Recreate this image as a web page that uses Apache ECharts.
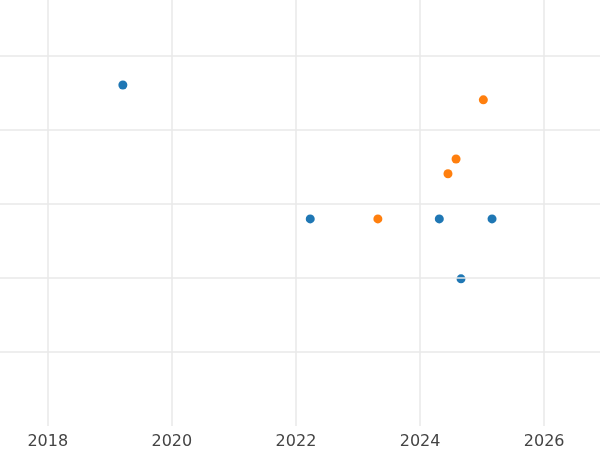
<!DOCTYPE html>
<html>
<head>
<meta charset="utf-8">
<script src="https://cdn.jsdelivr.net/npm/echarts@6/dist/echarts.min.js"></script>
<style>html,body{margin:0;padding:0}#chart{width:600px;height:450px}</style>
</head>
<body>
<div id="chart"></div>
<script>
// Values (x = year, y = unlabelled value)
const blueX = [2019.21, 2022.23, 2024.31, 2025.16, 2024.66];
const blueY = [4.61, 2.8, 2.8, 2.8, 1.99];
const orangeX = [2023.32, 2025.02, 2024.58, 2024.45];
const orangeY = [2.8, 4.41, 3.61, 3.41];
const yearTicks = [2018, 2020, 2022, 2024, 2026];

const pairs = (xs, ys) => xs.map((x, i) => [x, ys[i]]);

const chart = echarts.init(document.getElementById('chart'));
chart.setOption({
    animation: false,
    grid: { left: 0, right: 0, top: 0, bottom: 24 },
    xAxis: {
        type: 'value',
        min: 2017.23, max: 2026.9,
        axisLine: { show: false },
        axisTick: { show: false },
        axisLabel: {
            color: '#444', fontSize: 16, fontFamily: 'DejaVu Sans',
            customValues: yearTicks,
            formatter: v => String(Math.round(v))
        },
        splitLine: { show: false }
    },
    yAxis: {
        type: 'value',
        min: 0, max: 5.76,
        axisLine: { show: false },
        axisTick: { show: false },
        axisLabel: { show: false },
        splitLine: { show: false }
    },
    series: [
        {
            // grid lines drawn as mark lines so they sit at exact values
            type: 'scatter', data: [], silent: true,
            markLine: {
                symbol: 'none', silent: true, label: { show: false },
                lineStyle: { color: '#e8e8e8', width: 1.5, type: 'solid' },
                data: yearTicks.map(v => ({ xAxis: v }))
                    .concat([1, 2, 3, 4, 5].map(v => ({ yAxis: v })))
            }
        },
        { type: 'scatter', symbolSize: 9, itemStyle: { color: '#1f77b4', opacity: 1 }, data: pairs(blueX, blueY) },
        { type: 'scatter', symbolSize: 9, itemStyle: { color: '#ff7f0e', opacity: 1 }, data: pairs(orangeX, orangeY) }
    ]
});
</script>
</body>
</html>
